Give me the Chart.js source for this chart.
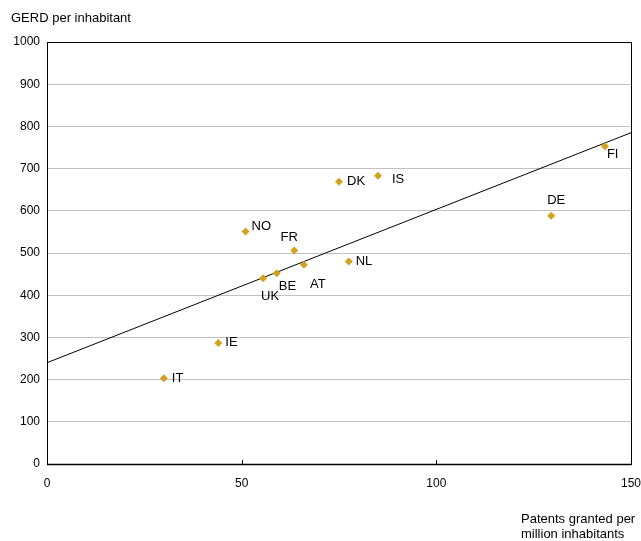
<!DOCTYPE html>
<html>
<head>
<meta charset="utf-8">
<script src="https://cdn.jsdelivr.net/npm/chart.js@4.4.1/dist/chart.umd.min.js"></script>
<style>
  html, body { margin: 0; padding: 0; background: #fff; }
  #wrap { width: 641px; height: 541px; }
</style>
</head>
<body>
<div id="wrap"><canvas id="chart" width="641" height="541"></canvas></div>
<script>
// country codes and values
const countries = ['IT', 'IE', 'NO', 'UK', 'BE', 'FR', 'AT', 'NL', 'DK', 'IS', 'DE', 'FI']
const patents = [30, 44, 51, 55.5, 59, 63.5, 66, 77.5, 75, 85, 129.5, 143.3]
const gerd = [203, 287, 551, 440, 452, 506, 472, 480, 669, 683, 588, 753]
// trend line end points
const trendX = [0, 150]
const trendY = [240, 785]

const yTitle = 'GERD per inhabitant'
const xTitle = ['Patents granted per', 'million inhabitants']

// where each label sits relative to its marker (px)
const labelPos = {
  IT: [8, 0, 'left'], IE: [7, 0, 'left'], NO: [6, -5, 'left'],
  UK: [7, 18, 'center'], BE: [2, 13, 'left'], FR: [-5, -13, 'center'],
  AT: [6, 20, 'left'], NL: [7, 0, 'left'], DK: [8, 0, 'left'],
  IS: [14, 4, 'left'], DE: [5, -15, 'center'], FI: [2, 8, 'left']
}

const FONT = '"Liberation Sans", Arial, sans-serif'
Chart.defaults.font.family = FONT
Chart.defaults.color = '#000'

const points = patents.map((x, i) => ({ x: x, y: gerd[i] }))
const trend = trendX.map((x, i) => ({ x: x, y: trendY[i] }))

const decor = {
  id: 'decor',
  afterDatasetsDraw(chart) {
    const ctx = chart.ctx
    const a = chart.chartArea
    const xs = chart.scales.x
    ctx.save()
    // frame
    ctx.strokeStyle = '#000'
    ctx.lineWidth = 1
    ctx.strokeRect(Math.round(a.left) + 0.5, Math.round(a.top) + 0.5,
      Math.round(a.right - a.left), Math.round(a.bottom - a.top))
    // bottom axis a bit heavier
    ctx.lineWidth = 1.5
    ctx.beginPath()
    ctx.moveTo(a.left, Math.round(a.bottom) + 0.5)
    ctx.lineTo(a.right, Math.round(a.bottom) + 0.5)
    ctx.stroke()
    // inner ticks on x axis
    ctx.lineWidth = 1
    ctx.beginPath()
    xs.ticks.forEach(t => {
      const px = Math.round(xs.getPixelForValue(t.value)) + 0.5
      ctx.moveTo(px, a.bottom)
      ctx.lineTo(px, a.bottom - 4)
    })
    ctx.stroke()
    // point labels
    ctx.fillStyle = '#000'
    ctx.font = '13px ' + FONT
    ctx.textBaseline = 'middle'
    const meta = chart.getDatasetMeta(0)
    meta.data.forEach((el, i) => {
      const p = labelPos[countries[i]]
      ctx.textAlign = p[2]
      ctx.fillText(countries[i], el.x + p[0], el.y + p[1])
    })
    // axis titles
    ctx.textAlign = 'left'
    ctx.textBaseline = 'alphabetic'
    ctx.fillText(yTitle, 11, 22)
    ctx.fillText(xTitle[0], 521, 523)
    ctx.fillText(xTitle[1], 521, 538)
    ctx.restore()
  }
}

new Chart(document.getElementById('chart'), {
  type: 'scatter',
  data: {
    datasets: [{
      label: 'countries',
      data: points,
      pointStyle: 'rectRot',
      pointRadius: 4,
      backgroundColor: '#d2a21e',
      borderColor: '#d2a21e',
      borderWidth: 0
    }, {
      type: 'line',
      label: 'trend',
      data: trend,
      borderColor: '#000',
      borderWidth: 1,
      pointRadius: 0,
      fill: false
    }]
  },
  options: {
    responsive: false,
    animation: false,
    layout: { padding: { left: 0, top: 42, right: 0, bottom: 0 } },
    plugins: { legend: { display: false }, tooltip: { enabled: false } },
    scales: {
      x: {
        type: 'linear', min: 0, max: 150,
        ticks: { stepSize: 50, font: { size: 12 }, padding: 12, maxRotation: 0 },
        grid: { display: false, drawTicks: false },
        border: { display: false },
        afterFit(s) { s.height = 77; s.paddingRight = 10 }
      },
      y: {
        min: 0, max: 1000,
        ticks: { stepSize: 100, font: { size: 12 }, padding: 7, callback: v => String(v) },
        grid: { color: '#c0c0c0', drawTicks: false, lineWidth: 1 },
        border: { display: false },
        afterFit(s) { s.width = 47 }
      }
    }
  },
  plugins: [decor]
})
</script>
</body>
</html>
